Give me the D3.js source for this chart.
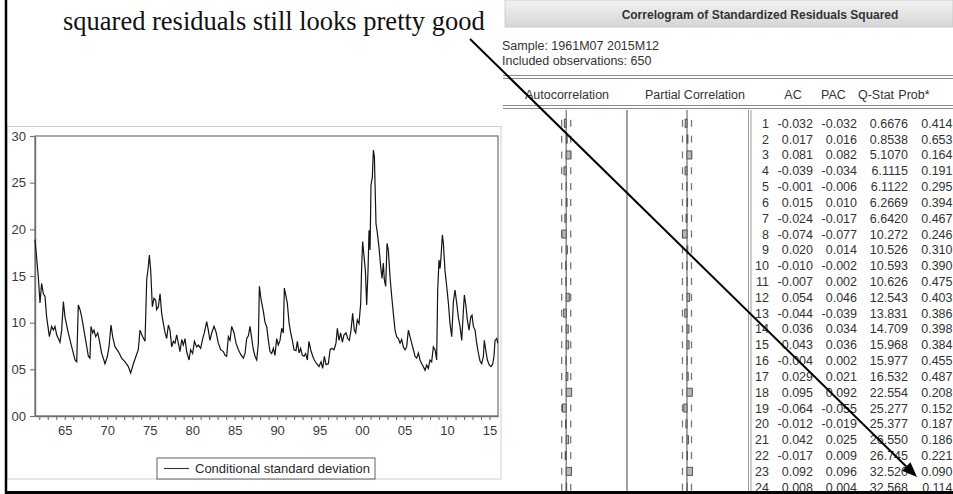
<!DOCTYPE html>
<html>
<head>
<meta charset="utf-8">
<script src="https://cdn.jsdelivr.net/npm/d3@7"></script>
<style>
  html, body { margin: 0; padding: 0; background: #fff; }
  svg { display: block; }
</style>
</head>
<body>
<svg id="fig" width="953" height="494"></svg>
<script>
// ---- Conditional standard deviation (monthly, 1961M07 - 2015M12) ----
const obsYears = [
  1961.50, 1961.89, 1962.09, 1962.28, 1962.48, 1962.68, 1962.87, 1963.19, 1963.46, 1963.66,
  1963.85, 1964.05, 1964.25, 1964.44, 1964.64, 1964.84, 1965.03, 1965.42, 1965.82, 1966.21,
  1966.41, 1966.60, 1966.80, 1967.00, 1967.39, 1967.78, 1967.97, 1968.09, 1968.29, 1968.45,
  1968.64, 1968.88, 1969.07, 1969.35, 1969.74, 1970.02, 1970.21, 1970.45, 1970.64, 1970.92,
  1971.31, 1971.70, 1972.10, 1972.49, 1972.76, 1973.08, 1973.39, 1973.66, 1973.86, 1974.17,
  1974.45, 1974.65, 1974.84, 1974.96, 1975.12, 1975.31, 1975.51, 1975.71, 1975.82, 1976.02,
  1976.22, 1976.41, 1976.61, 1976.81, 1977.00, 1977.20, 1977.39, 1977.59, 1977.79, 1977.98,
  1978.18, 1978.37, 1978.57, 1978.77, 1978.96, 1979.16, 1979.35, 1979.63, 1979.82, 1980.06,
  1980.26, 1980.53, 1980.73, 1981.00, 1981.24, 1981.43, 1981.71, 1981.90, 1982.10, 1982.30,
  1982.57, 1982.81, 1983.08, 1983.36, 1983.67, 1983.87, 1984.06, 1984.26, 1984.46, 1984.65,
  1984.93, 1985.16, 1985.44, 1985.71, 1986.03, 1986.22, 1986.42, 1986.62, 1986.81, 1987.01,
  1987.20, 1987.40, 1987.60, 1987.79, 1987.91, 1988.11, 1988.38, 1988.58, 1988.77, 1988.97,
  1989.16, 1989.36, 1989.56, 1989.75, 1989.95, 1990.14, 1990.34, 1990.54, 1990.73, 1990.85,
  1991.05, 1991.20, 1991.40, 1991.60, 1991.79, 1991.99, 1992.22, 1992.38, 1992.58, 1992.77,
  1992.97, 1993.17, 1993.36, 1993.56, 1993.75, 1993.95, 1994.19, 1994.38, 1994.66, 1994.93,
  1995.17, 1995.36, 1995.56, 1995.76, 1996.03, 1996.23, 1996.42, 1996.70, 1996.93, 1997.09,
  1997.29, 1997.48, 1997.68, 1997.87, 1998.11, 1998.31, 1998.50, 1998.70, 1998.89, 1999.09,
  1999.25, 1999.44, 1999.64, 1999.84, 1999.95, 2000.07, 2000.23, 2000.39, 2000.54, 2000.70,
  2000.82, 2000.94, 2001.05, 2001.21, 2001.33, 2001.45, 2001.52, 2001.64, 2001.80, 2001.99,
  2002.19, 2002.35, 2002.50, 2002.62, 2002.78, 2002.94, 2003.09, 2003.29, 2003.49, 2003.68,
  2003.88, 2004.07, 2004.27, 2004.47, 2004.66, 2004.86, 2005.06, 2005.25, 2005.45, 2005.64,
  2005.84, 2006.04, 2006.23, 2006.43, 2006.63, 2006.82, 2007.02, 2007.21, 2007.41, 2007.61,
  2007.80, 2008.00, 2008.19, 2008.39, 2008.59, 2008.78, 2008.90, 2009.06, 2009.18, 2009.29,
  2009.45, 2009.57, 2009.76, 2009.96, 2010.16, 2010.35, 2010.55, 2010.75, 2010.94, 2011.14,
  2011.33, 2011.53, 2011.73, 2011.92, 2012.04, 2012.24, 2012.39, 2012.59, 2012.79, 2012.94,
  2013.10, 2013.30, 2013.49, 2013.69, 2013.88, 2014.08, 2014.28, 2014.39, 2014.55, 2014.75,
  2014.98, 2015.18, 2015.38, 2015.53, 2015.65, 2015.85, 2015.97
];
const condSD = [
  18.9, 14.9, 12.1, 14.2, 13.1, 12.8, 10.6, 8.5, 9.6, 9.2,
  9.6, 8.7, 8.3, 7.9, 9.2, 12.25, 10.6, 8.9, 7.4, 6.0,
  5.8, 11.9, 11.4, 10.6, 8.5, 6.4, 6.2, 9.6, 8.9, 9.2,
  8.5, 8.9, 8.1, 6.7, 5.6, 6.4, 7.4, 9.75, 8.5, 7.4,
  6.9, 6.2, 5.8, 5.3, 4.6, 5.6, 6.4, 7.1, 9.2, 8.5,
  8.0, 14.6, 16.0, 17.25, 15.6, 11.7, 12.6, 12.4, 11.4, 11.7,
  13.1, 11.0, 9.9, 8.9, 8.3, 9.75, 9.2, 7.4, 8.0, 7.8,
  8.7, 7.8, 6.9, 8.2, 7.6, 8.3, 6.9, 6.0, 7.1, 6.7,
  8.0, 7.4, 7.6, 7.25, 8.3, 8.9, 10.1, 9.2, 8.1, 8.9,
  9.6, 9.0, 7.8, 7.1, 6.9, 6.5, 6.4, 8.5, 8.1, 9.6,
  8.9, 7.8, 7.1, 6.6, 6.2, 6.7, 8.3, 8.6, 9.6, 8.3,
  7.1, 6.4, 6.0, 7.8, 13.9, 12.5, 11.2, 10.0, 9.6, 8.1,
  6.9, 6.7, 7.25, 6.5, 8.3, 7.6, 8.1, 9.4, 8.9, 13.7,
  12.8, 12.1, 10.0, 8.9, 8.1, 7.1, 7.0, 8.0, 6.75, 7.25,
  6.5, 6.4, 6.7, 6.0, 8.0, 7.1, 6.4, 6.0, 5.6, 5.3,
  5.8, 5.1, 6.4, 5.5, 5.6, 7.1, 7.25, 7.1, 7.8, 9.4,
  8.1, 8.9, 7.9, 8.7, 8.9, 8.3, 8.1, 9.2, 11.0, 9.2,
  8.9, 10.3, 9.9, 12.1, 16.0, 18.7, 17.1, 15.6, 11.9, 15.6,
  19.9, 17.8, 24.75, 25.6, 28.5, 27.8, 25.1, 20.6, 19.6, 18.1,
  16.0, 14.75, 16.4, 14.6, 13.9, 18.5, 17.8, 14.9, 12.8, 11.0,
  9.2, 8.5, 8.3, 7.8, 8.2, 7.4, 7.1, 7.4, 9.2, 8.5,
  7.8, 7.1, 6.4, 6.2, 6.75, 6.0, 5.6, 5.3, 4.9, 5.45,
  5.1, 6.0, 5.8, 7.4, 7.1, 6.0, 13.5, 16.7, 15.8, 17.0,
  19.4, 18.5, 15.6, 13.9, 12.1, 9.9, 8.5, 12.25, 13.5, 12.1,
  10.6, 9.6, 8.1, 11.2, 12.96, 11.7, 10.3, 9.2, 10.6, 10.8,
  9.6, 9.2, 7.8, 6.75, 5.9, 5.6, 6.4, 8.1, 7.1, 6.0,
  5.45, 5.3, 5.6, 6.4, 8.1, 8.3, 7.8
];
const yTickValues = [0, 5, 10, 15, 20, 25, 30];
const xTickYears = d3.range(1962, 2016);
const seriesName = "Conditional standard deviation";

// ---- Correlogram of standardized residuals squared ----
const lags = d3.range(1, 25);
const acValues = [-0.032, 0.017, 0.081, -0.039, -0.001, 0.015, -0.024, -0.074, 0.020, -0.010, -0.007, 0.054,
                  -0.044, 0.036, 0.043, -0.004, 0.029, 0.095, -0.064, -0.012, 0.042, -0.017, 0.092, 0.008];
const pacValues = [-0.032, 0.016, 0.082, -0.034, -0.006, 0.010, -0.017, -0.077, 0.014, -0.002, 0.002, 0.046,
                   -0.039, 0.034, 0.036, 0.002, 0.021, 0.092, -0.055, -0.019, 0.025, 0.009, 0.096, 0.004];
const qStats = [0.6676, 0.8538, 5.1070, 6.1115, 6.1122, 6.2669, 6.6420, 10.272, 10.526, 10.593, 10.626, 12.543,
                13.831, 14.709, 15.968, 15.977, 16.532, 22.554, 25.277, 25.377, 26.550, 26.745, 32.520, 32.568];
const probs = [0.414, 0.653, 0.164, 0.191, 0.295, 0.394, 0.467, 0.246, 0.310, 0.390, 0.475, 0.403,
               0.386, 0.398, 0.384, 0.455, 0.487, 0.208, 0.152, 0.187, 0.186, 0.221, 0.090, 0.114];
const nObs = 650;
const tableTitle = "Correlogram of Standardized Residuals Squared";
const sampleLine = "Sample: 1961M07 2015M12";
const obsLine = "Included observations: " + nObs;
const columnHeads = ["Autocorrelation", "Partial Correlation", "AC", "PAC", "Q-Stat", "Prob*"];
const noteText = "squared residuals still looks pretty good";

const svg = d3.select("#fig");
const SANS = '"Liberation Sans", Arial, sans-serif';

// ================= Left: line graph =================
const graph = svg.append("g");
graph.append("rect")
  .attr("x", 7).attr("y", 126.5).attr("width", 494).attr("height", 352.5)
  .attr("fill", "#fff").attr("stroke", "#cfcfcf").attr("stroke-width", 1);

const x = d3.scaleLinear().domain([1961.5, 2016.0]).range([35, 498]);
const y = d3.scaleLinear().domain([0, 30]).range([416, 136]);

graph.append("rect")
  .attr("x", x.range()[0]).attr("y", y.range()[1])
  .attr("width", x.range()[1] - x.range()[0]).attr("height", y.range()[0] - y.range()[1])
  .attr("fill", "none").attr("stroke", "#707070").attr("stroke-width", 1.2);

const yAxis = graph.append("g")
  .attr("transform", `translate(${x.range()[0]},0)`)
  .call(d3.axisLeft(y).tickValues(yTickValues).tickSize(5).tickSizeOuter(0).tickPadding(4)
        .tickFormat(d3.format("02d")));
const xAxis = graph.append("g")
  .attr("transform", `translate(0,${y.range()[0]})`)
  .call(d3.axisBottom(x).tickValues(xTickYears).tickSize(4).tickSizeOuter(0).tickPadding(6)
        .tickFormat(d => d % 5 === 0 ? String(d % 100).padStart(2, "0") : ""));
[yAxis, xAxis].forEach(a => {
  a.select(".domain").attr("stroke", "#707070").attr("stroke-width", 1.4);
  a.selectAll(".tick line").attr("stroke", "#707070").attr("stroke-width", 1.1);
  a.selectAll(".tick text").attr("fill", "#3a3a3a").style("font-family", SANS).style("font-size", "13px");
});

const series = obsYears.map((t, i) => ({ t, v: condSD[i] }));
graph.append("path")
  .datum(series)
  .attr("fill", "none").attr("stroke", "#141414").attr("stroke-width", 1.2)
  .attr("stroke-linejoin", "miter")
  .attr("d", d3.line().x(d => x(d.t)).y(d => y(d.v)));

// legend
const leg = graph.append("g").attr("transform", "translate(157,458)");
leg.append("rect").attr("width", 218).attr("height", 21)
  .attr("fill", "#fff").attr("stroke", "#606060").attr("stroke-width", 1);
leg.append("line").attr("x1", 7).attr("x2", 32).attr("y1", 10.5).attr("y2", 10.5)
  .attr("stroke", "#333").attr("stroke-width", 1.1);
leg.append("text").attr("x", 38).attr("y", 10.5).attr("dy", "0.36em")
  .attr("fill", "#2a2a2a").style("font-family", SANS).style("font-size", "13px")
  .text(seriesName);

// ================= Right: correlogram table =================
const tbl = svg.append("g").style("font-family", SANS).style("font-size", "12.5px").attr("fill", "#333");

const grad = svg.append("defs").append("linearGradient")
  .attr("id", "hdr").attr("x1", 0).attr("y1", 0).attr("x2", 0).attr("y2", 1);
grad.append("stop").attr("offset", "0%").attr("stop-color", "#f2f2f2");
grad.append("stop").attr("offset", "100%").attr("stop-color", "#d6d6d6");
tbl.append("rect").attr("x", 505).attr("y", 0).attr("width", 448).attr("height", 27)
  .attr("fill", "url(#hdr)").attr("stroke", "#c4c4c4").attr("stroke-width", 0.8);
tbl.append("text").attr("x", 760).attr("y", 19).attr("text-anchor", "middle")
  .style("font-weight", "bold").style("font-size", "12px").text(tableTitle);

tbl.append("text").attr("x", 502).attr("y", 50).text(sampleLine);
tbl.append("text").attr("x", 502).attr("y", 64.5).text(obsLine);

[75.5, 78.5, 105.5, 108.5].forEach(yy => {
  tbl.append("line").attr("x1", 503).attr("x2", 953).attr("y1", yy).attr("y2", yy)
    .attr("stroke", "#8a8a8a").attr("stroke-width", 1);
});

// column headings, centred over their columns
const headX = [567, 695, 793, 833.5, 876, 914];
columnHeads.forEach((h, i) => {
  tbl.append("text").attr("x", headX[i]).attr("y", 99).attr("text-anchor", "middle").text(h);
});

const row = d3.scaleBand().domain(lags).range([115.4, 115.4 + 24 * 15.82]);
const rc = l => row(l) + row.bandwidth() / 2;
const bodyTop = 110, bodyBottom = 494;

// column separators
tbl.append("line").attr("x1", 627).attr("x2", 627).attr("y1", bodyTop).attr("y2", bodyBottom)
  .attr("stroke", "#8a8a8a").attr("stroke-width", 1.6);
[748.5, 751].forEach(xx => {
  tbl.append("line").attr("x1", xx).attr("x2", xx).attr("y1", bodyTop).attr("y2", bodyBottom)
    .attr("stroke", "#9a9a9a").attr("stroke-width", 1);
});

// bar plots for AC and PAC with +-2/sqrt(n) bounds
const bound = 2 / Math.sqrt(nObs);
function barColumn(center, values) {
  const s = d3.scaleLinear().domain([-1, 1]).range([center - 57.4, center + 57.4]);
  const g = tbl.append("g");
  g.append("line").attr("x1", s(0)).attr("x2", s(0)).attr("y1", bodyTop).attr("y2", bodyBottom)
    .attr("stroke", "#7a7a7a").attr("stroke-width", 1.3);
  [-bound, bound].forEach(b => {
    g.selectAll(null).data(lags).join("line")
      .attr("x1", s(b)).attr("x2", s(b))
      .attr("y1", l => rc(l) - 3.5).attr("y2", l => rc(l) + 3.5)
      .attr("stroke", "#777").attr("stroke-width", 1.3);
  });
  g.selectAll(null).data(lags).join("rect")
    .attr("x", l => Math.min(s(0), s(values[l - 1])))
    .attr("width", l => Math.abs(s(values[l - 1]) - s(0)))
    .attr("y", l => rc(l) - 4).attr("height", 8)
    .attr("fill", "#b8b8b8").attr("stroke", "#555").attr("stroke-width", 1);
}
barColumn(566.2, acValues);
barColumn(687, pacValues);

const fmtQ = q => q < 10 ? q.toFixed(4) : q.toFixed(3);
const cols = [
  { x: 769, f: l => String(l) },
  { x: 813, f: l => acValues[l - 1].toFixed(3) },
  { x: 857, f: l => pacValues[l - 1].toFixed(3) },
  { x: 908, f: l => fmtQ(qStats[l - 1]) },
  { x: 952.5, f: l => probs[l - 1].toFixed(3) }
];
cols.forEach(c => {
  tbl.selectAll(null).data(lags).join("text")
    .attr("x", c.x).attr("y", l => rc(l)).attr("dy", "0.36em")
    .attr("text-anchor", "end").text(c.f);
});

// ================= Frame and annotation =================
svg.append("line").attr("x1", 6).attr("x2", 6).attr("y1", 0).attr("y2", 494)
  .attr("stroke", "#000").attr("stroke-width", 2.5);
svg.append("line").attr("x1", 5).attr("x2", 953).attr("y1", 492.5).attr("y2", 492.5)
  .attr("stroke", "#000").attr("stroke-width", 3);

svg.append("text").attr("x", 63).attr("y", 30)
  .style("font-family", '"Liberation Serif", "Times New Roman", serif').style("font-size", "26.5px")
  .attr("fill", "#111").text(noteText);

const a0 = [470, 39], a1 = [917, 477];
const ang = Math.atan2(a1[1] - a0[1], a1[0] - a0[0]);
const headLen = 15, headW = 6;
const base = [a1[0] - headLen * Math.cos(ang), a1[1] - headLen * Math.sin(ang)];
svg.append("line").attr("x1", a0[0]).attr("y1", a0[1]).attr("x2", base[0]).attr("y2", base[1])
  .attr("stroke", "#000").attr("stroke-width", 2);
svg.append("path")
  .attr("d", `M${a1[0]},${a1[1]}L${base[0] - headW * Math.sin(ang)},${base[1] + headW * Math.cos(ang)}L${base[0] + headW * Math.sin(ang)},${base[1] - headW * Math.cos(ang)}Z`)
  .attr("fill", "#000");
</script>
</body>
</html>
